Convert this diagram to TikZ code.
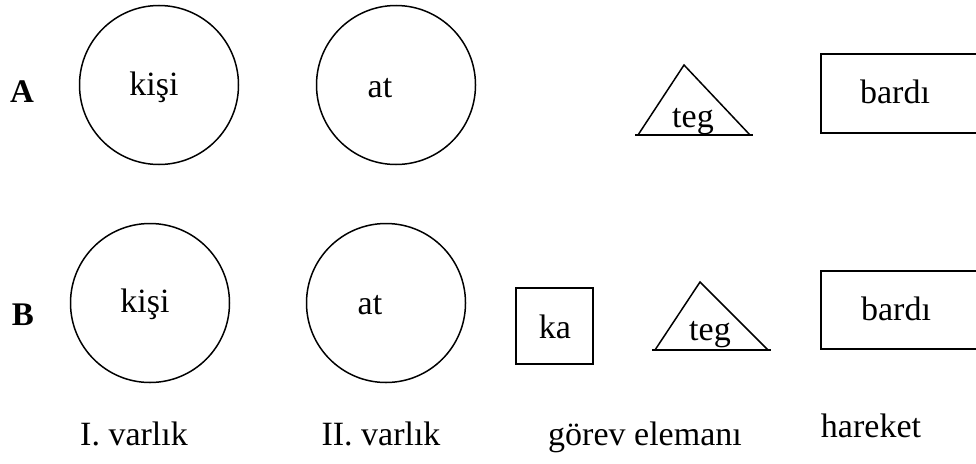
\documentclass[tikz,border=0pt]{standalone}
\usepackage{fontspec}
\setmainfont{Liberation Serif}
\usetikzlibrary{positioning}

\begin{document}
\begin{tikzpicture}[
    x=1pt, y=-1pt,
    line width=1.5pt,
    ent/.style={circle, draw, minimum size=159pt, inner sep=0pt},
    box/.style={rectangle, draw, inner sep=0pt, anchor=north west},
    txt/.style={anchor=base, inner sep=0pt, font=\fontsize{34}{40}\selectfont},
    row/.style={txt, font=\fontsize{33}{40}\selectfont\bfseries}
]
    \useasboundingbox (0,0) rectangle (976,463);

    % row A
    \node[row] (rowA) at (22,102) {A};
    \node[ent] (kisiA) at (159,85) {};
    \node[ent] (atA) at (396,85) {};
    \node[box, minimum width=180pt, minimum height=79pt] (actA) at (820,53) {};
    \coordinate (tA1) at (638,135);
    \coordinate (tA2) at (684,65);
    \coordinate (tA3) at (750,135);
    \draw (tA1) -- (tA2) -- (tA3);
    \draw ([xshift=-3pt]tA1) -- ([xshift=3pt]tA3);
    \node[txt] (kisiAt) at (154,95) {kişi};
    \node[txt] (atAt) at (380,97) {at};
    \node[txt] (tegA) at (693,127) {teg};
    \node[txt] (bardiA) at (895,103) {bardı};

    % row B
    \node[row] (rowB) at (23,325) {B};
    \node[ent] (kisiB) at (150,303) {};
    \node[ent] (atB) at (386,303) {};
    \node[box, minimum width=77pt, minimum height=76pt] (ka) at (515,287) {};
    \node[box, minimum width=180pt, minimum height=78pt] (actB) at (820,270) {};
    \coordinate (tB1) at (655,350);
    \coordinate (tB2) at (700,282);
    \coordinate (tB3) at (768,350);
    \draw (tB1) -- (tB2) -- (tB3);
    \draw ([xshift=-3pt]tB1) -- ([xshift=3pt]tB3);
    \node[txt] (kisiBt) at (145,312) {kişi};
    \node[txt] (atBt) at (370,314) {at};
    \node[txt] (kat) at (555,338) {ka};
    \node[txt] (tegB) at (710,340) {teg};
    \node[txt] (bardiB) at (896,320) {bardı};

    % column labels
    \node[txt] (col1) at (134,445) {I. varlık};
    \node[txt] (col2) at (381,445) {II. varlık};
    \node[txt] (col3) at (645,445) {görev elemanı};
    \node[txt] (col4) at (871,437) {hareket};
\end{tikzpicture}
\end{document}
